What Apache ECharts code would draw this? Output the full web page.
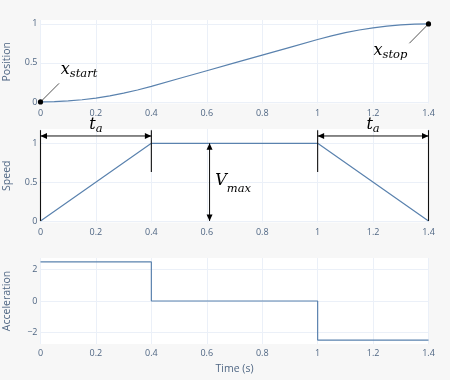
<!DOCTYPE html>
<html>
<head>
<meta charset="utf-8">
<script src="https://cdn.jsdelivr.net/npm/echarts@6/dist/echarts.min.js"></script>
<style>
html,body{margin:0;padding:0;background:#f7f7f7;}
#c{width:450px;height:380px;}
</style>
</head>
<body>
<div id="c"></div>
<script>
// ---- data ----
const xTicks = [0, 0.2, 0.4, 0.6, 0.8, 1, 1.2, 1.4];
const posTicks = [0, 0.5, 1];
const speedTicks = [0, 0.5, 1];
const accTicks = [-2, 0, 2];

const posTime = [0, 0.05, 0.1, 0.15, 0.2, 0.25, 0.3, 0.35, 0.4, 0.5, 0.6, 0.7, 0.8, 0.9, 1.0, 1.05, 1.1, 1.15, 1.2, 1.25, 1.3, 1.35, 1.4];
const posValues = [0, 0.003, 0.013, 0.028, 0.05, 0.078, 0.113, 0.153, 0.2, 0.3, 0.4, 0.5, 0.6, 0.7, 0.8, 0.847, 0.888, 0.922, 0.95, 0.972, 0.988, 0.997, 1];

const speedTime = [0, 0.4, 1, 1.4];
const speedValues = [0, 1, 1, 0];

const accTime = [0, 0.4, 0.4, 1, 1, 1.4];
const accValues = [2.5, 2.5, 0, 0, -2.5, -2.5];

// annotation anchors (data units)
const posEndpoints = [[0, 0], [1.4, 1]];
const leaderEnds = [[0.067, 0.238], [1.331, 0.752]]; // where the leader lines from the endpoints stop
const speedGuides = [[0, 1.17, 0], [0.4, 1.17, 0.63], [1, 1.17, 0.63], [1.4, 1.17, 0]]; // t, top, bottom
const spanArrows = [[0, 0.4, 1.095], [1, 1.4, 1.095]]; // t0, t1, level
const vmaxArrow = [[0.61, 1, 0]]; // t, top, bottom

// ---- styles ----
const LABEL_COLOR = '#506784';
const GRID_COLOR = '#EBF0F8';
const LINE_COLOR = '#5a82ae';
const MAIN_FS = 16, SUB_FS = 11.5;
const MATH_FONT = 'DejaVu Serif';

const mctx = document.createElement('canvas').getContext('2d');
function tw(s, fs) { mctx.font = 'italic ' + fs + 'px "' + MATH_FONT + '"'; return mctx.measureText(s).width; }
function txt(s, x, baseline, fs) {
  return { type: 'text', style: { text: s, x: x, y: baseline - 0.35 * fs, fill: '#000',
    fontStyle: 'italic', fontSize: fs, fontFamily: MATH_FONT, textAlign: 'left', textVerticalAlign: 'middle' } };
}
function mathText(main, sub, x, baseline, drop, center) {
  const w1 = tw(main, MAIN_FS), w2 = tw(sub, SUB_FS);
  const left = center ? x - (w1 + w2) / 2 : x;
  return [txt(main, left, baseline, MAIN_FS), txt(sub, left + w1, baseline + drop, SUB_FS)];
}
function arrowHead(x, y, dx, dy) { // tip at x,y pointing in direction (dx,dy)
  const L = 6.5, H = 3;
  const bx = x - dx * L, by = y - dy * L;
  const px = -dy * H, py = dx * H;
  return { type: 'polygon', shape: { points: [[x, y], [bx + px, by + py], [bx - px, by - py]] }, style: { fill: '#000' } };
}

const endLabels = [
  { main: 'x', sub: 'start', dx: 20.3, dy: -26.9, drop: 3.3 },
  { main: 'x', sub: 'stop', dx: -55, dy: 32.8, drop: 2.6 }
];

function axisX(i, extra) {
  return Object.assign({
    type: 'value', gridIndex: i, min: 0, max: 1.4,
    axisLine: { show: false },
    axisTick: { show: false, customValues: xTicks },
    splitLine: { show: true, lineStyle: { color: GRID_COLOR, width: 1 } },
    axisLabel: { customValues: xTicks, fontSize: 9, color: LABEL_COLOR, fontFamily: 'Open Sans', margin: 5 }
  }, extra || {});
}
function axisY(i, name, min, max, ticks) {
  return {
    type: 'value', gridIndex: i, min: min, max: max,
    name: name, nameLocation: 'middle', nameRotate: 90, nameGap: 28,
    nameTextStyle: { fontSize: 10.5, color: LABEL_COLOR, fontFamily: 'Open Sans' },
    axisLine: { show: false },
    axisTick: { show: false, customValues: ticks },
    splitLine: { show: true, lineStyle: { color: GRID_COLOR, width: 1 } },
    axisLabel: { customValues: ticks, fontSize: 9, color: LABEL_COLOR, fontFamily: 'Open Sans', margin: 3,
      formatter: v => String(v).replace('-', '\u2212') }
  };
}
function grid(top, height) {
  return { left: 40.5, width: 388, top: top, height: height, show: true, backgroundColor: '#fff',
    borderWidth: 0, containLabel: false, outerBoundsMode: 'none' };
}

const chart = echarts.init(document.getElementById('c'), null, { renderer: 'canvas' });
chart.setOption({
  animation: false,
  backgroundColor: '#f7f7f7',
  grid: [grid(20, 83.5), grid(129, 93.5), grid(258, 86)],
  xAxis: [
    axisX(0), axisX(1),
    axisX(2, { name: 'Time (s)', nameLocation: 'middle', nameGap: 20,
      nameTextStyle: { fontSize: 10.5, color: LABEL_COLOR, fontFamily: 'Open Sans' } })
  ],
  yAxis: [
    axisY(0, 'Position', -0.02, 1.05, posTicks),
    axisY(1, 'Speed', -0.02, 1.185, speedTicks),
    axisY(2, 'Acceleration', -2.75, 2.75, accTicks)
  ],
  series: [
    { type: 'line', xAxisIndex: 0, yAxisIndex: 0, showSymbol: false, silent: true,
      data: posTime.map((t, i) => [t, posValues[i]]), lineStyle: { color: LINE_COLOR, width: 1.2 },
      markLine: {
        silent: true, symbol: ['none', 'none'], animation: false, label: { show: false },
        lineStyle: { color: '#555', width: 1, type: 'solid' },
        emphasis: { disabled: true },
        data: posEndpoints.map((p, i) => [{ coord: p }, { coord: leaderEnds[i] }])
      } },
    { type: 'line', xAxisIndex: 1, yAxisIndex: 1, showSymbol: false, silent: true,
      data: speedTime.map((t, i) => [t, speedValues[i]]), lineStyle: { color: LINE_COLOR, width: 1.2 } },
    { type: 'line', xAxisIndex: 2, yAxisIndex: 2, showSymbol: false, silent: true,
      data: accTime.map((t, i) => [t, accValues[i]]), lineStyle: { color: LINE_COLOR, width: 1.2 } },
    { // endpoints markers + labels
      type: 'custom', xAxisIndex: 0, yAxisIndex: 0, silent: true, z: 10, clip: false,
      data: posEndpoints,
      renderItem: (params, api) => {
        const p = api.coord([api.value(0), api.value(1)]);
        const c = endLabels[params.dataIndex];
        const ch = [
          { type: 'circle', shape: { cx: p[0], cy: p[1], r: 2.6 }, style: { fill: '#000' } }
        ].concat(mathText(c.main, c.sub, p[0] + c.dx, p[1] + c.dy, c.drop, false));
        return { type: 'group', children: ch };
      }
    },
    { // vertical guide lines
      type: 'custom', xAxisIndex: 1, yAxisIndex: 1, silent: true, z: 10, clip: false,
      data: speedGuides,
      renderItem: (params, api) => {
        const a = api.coord([api.value(0), api.value(1)]);
        const b = api.coord([api.value(0), api.value(2)]);
        return { type: 'line', shape: { x1: a[0], y1: a[1], x2: b[0], y2: b[1] }, style: { stroke: '#111', lineWidth: 1.1 } };
      }
    },
    { // t_a span arrows
      type: 'custom', xAxisIndex: 1, yAxisIndex: 1, silent: true, z: 10, clip: false,
      data: spanArrows,
      renderItem: (params, api) => {
        const a = api.coord([api.value(0), api.value(2)]);
        const b = api.coord([api.value(1), api.value(2)]);
        const ch = [
          { type: 'line', shape: { x1: a[0], y1: a[1], x2: b[0], y2: b[1] }, style: { stroke: '#111', lineWidth: 1 } },
          arrowHead(a[0], a[1], -1, 0), arrowHead(b[0], b[1], 1, 0)
        ].concat(mathText('t', 'a', (a[0] + b[0]) / 2, a[1] - 5.3, 2.3, true));
        return { type: 'group', children: ch };
      }
    },
    { // V_max arrow
      type: 'custom', xAxisIndex: 1, yAxisIndex: 1, silent: true, z: 10, clip: false,
      data: vmaxArrow,
      renderItem: (params, api) => {
        const a = api.coord([api.value(0), api.value(1)]);
        const b = api.coord([api.value(0), api.value(2)]);
        const midY = (a[1] + b[1]) / 2;
        const ch = [
          { type: 'line', shape: { x1: a[0], y1: a[1], x2: b[0], y2: b[1] }, style: { stroke: '#111', lineWidth: 1 } },
          arrowHead(a[0], a[1], 0, -1), arrowHead(b[0], b[1], 0, 1)
        ].concat(mathText('V', 'max', a[0] + 5.7, midY + 4.6, 6.3, false));
        return { type: 'group', children: ch };
      }
    }
  ]
});
</script>
</body>
</html>
